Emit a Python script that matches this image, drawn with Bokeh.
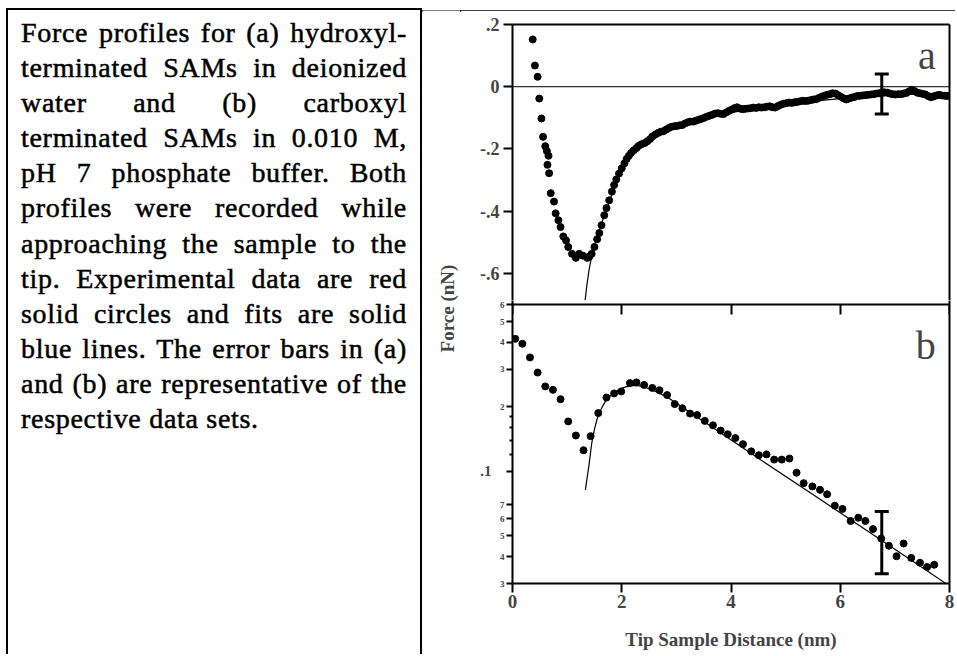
from bokeh.plotting import figure
from bokeh.models import (Div, Label, Span, Whisker, TeeHead, ColumnDataSource,
                          FixedTicker, LogAxis, LinearAxis, Range1d)
from bokeh.layouts import row, column
from bokeh.embed import file_html
from bokeh.resources import INLINE

# ---------------- caption ----------------
caption_lines = [
    "Force profiles for (a) hydroxyl-",
    "terminated SAMs in deionized",
    "water and (b) carboxyl",
    "terminated SAMs in 0.010 M,",
    "pH 7 phosphate buffer. Both",
    "profiles were recorded while",
    "approaching the sample to the",
    "tip. Experimental data are red",
    "solid circles and fits are solid",
    "blue lines. The error bars in (a)",
    "and (b) are representative of the",
    "respective data sets.",
]

# ---------------- panel (a) data ----------------
a_x = [0.37, 0.41, 0.46, 0.49, 0.53, 0.56, 0.60, 0.63, 0.66, 0.64, 0.67, 0.70, 0.76, 0.79, 0.84,
       0.88, 0.93, 0.98, 1.02, 1.09, 1.16, 1.22, 1.29, 1.37, 1.41,
       1.45, 1.50, 1.55, 1.59, 1.63, 1.68, 1.72, 1.77, 1.82, 1.86, 1.90, 1.95, 2.00, 2.05, 2.09,
       2.13, 2.17, 2.22, 2.27, 2.31, 2.36, 2.42, 2.47, 2.52, 2.56, 2.61, 2.66, 2.71, 2.76, 2.81,
       2.86, 2.91, 2.96, 3.01, 3.06, 3.11, 3.16, 3.21, 3.26, 3.31, 3.36, 3.41, 3.46, 3.51, 3.56,
       3.61, 3.66, 3.71, 3.76, 3.81, 3.86, 3.91, 3.96, 4.01, 4.06, 4.11, 4.16, 4.21, 4.26, 4.31,
       4.36, 4.41, 4.46, 4.51, 4.56, 4.61, 4.66, 4.71, 4.76, 4.81, 4.86, 4.91, 4.96, 5.01, 5.06,
       5.11, 5.16, 5.21, 5.26, 5.31, 5.36, 5.41, 5.46, 5.51, 5.56, 5.61, 5.66, 5.71, 5.76, 5.81,
       5.86, 5.91, 5.96, 6.01, 6.06, 6.11, 6.16, 6.21, 6.26, 6.31, 6.36, 6.41, 6.46, 6.51, 6.56,
       6.61, 6.66, 6.71, 6.76, 6.81, 6.86, 6.91, 6.96, 7.01, 7.06, 7.11, 7.16, 7.21, 7.26, 7.31,
       7.36, 7.41, 7.46, 7.51, 7.56, 7.61, 7.66, 7.71, 7.76, 7.81, 7.86, 7.91, 7.96]
a_y = [0.152, 0.068, 0.032, -0.038, -0.102, -0.161, -0.191, -0.207, -0.222, -0.251, -0.278, -0.342,
       -0.369, -0.407, -0.429, -0.451, -0.481, -0.494, -0.515, -0.537, -0.550, -0.537, -0.543,
       -0.550, -0.545,
       -0.537, -0.515, -0.490, -0.470, -0.445, -0.413, -0.390, -0.365, -0.337, -0.316, -0.298,
       -0.279, -0.262, -0.246, -0.232, -0.222, -0.213, -0.204, -0.197, -0.190, -0.185, -0.181,
       -0.175, -0.168, -0.160, -0.154, -0.149, -0.145, -0.143, -0.138, -0.133, -0.129, -0.127,
       -0.126, -0.124, -0.123, -0.118, -0.114, -0.112, -0.112, -0.109, -0.106, -0.103, -0.100,
       -0.096, -0.093, -0.090, -0.086, -0.085, -0.087, -0.088, -0.083, -0.078, -0.074, -0.069,
       -0.066, -0.070, -0.072, -0.071, -0.070, -0.069, -0.067, -0.068, -0.066, -0.067, -0.066,
       -0.064, -0.063, -0.066, -0.067, -0.062, -0.058, -0.055, -0.053, -0.051, -0.052, -0.050,
       -0.049, -0.047, -0.045, -0.046, -0.045, -0.043, -0.041, -0.040, -0.036, -0.032, -0.029,
       -0.026, -0.024, -0.021, -0.022, -0.027, -0.032, -0.037, -0.041, -0.038, -0.035, -0.033,
       -0.030, -0.029, -0.028, -0.027, -0.026, -0.025, -0.024, -0.022, -0.021, -0.020, -0.018,
       -0.019, -0.022, -0.024, -0.025, -0.024, -0.024, -0.022, -0.020, -0.015, -0.010, -0.014,
       -0.019, -0.021, -0.023, -0.025, -0.030, -0.034, -0.031, -0.028, -0.026, -0.028, -0.029,
       -0.030]
a_fit_x = [1.32, 1.36, 1.40, 1.45, 1.50, 1.60, 1.70, 1.80, 1.90, 2.00, 2.10, 2.20, 2.30, 2.50,
           2.75, 3.00, 3.50, 4.00, 4.50, 5.00, 5.50, 6.00, 6.50, 7.00, 7.50, 8.00]
a_fit_y = [-0.700, -0.640, -0.590, -0.545, -0.510, -0.455, -0.405, -0.355, -0.305, -0.268,
           -0.240, -0.215, -0.197, -0.172, -0.148, -0.130, -0.103, -0.083, -0.068, -0.056,
           -0.046, -0.038, -0.032, -0.027, -0.023, -0.020]
a_err_x = [6.76]
a_err_upper = [0.041]
a_err_lower = [-0.088]

# ---------------- panel (b) data ----------------
b_x = [0.05, 0.18, 0.32, 0.46, 0.60, 0.74, 0.88, 1.02, 1.16, 1.30, 1.43, 1.57, 1.72, 1.86,
       1.99, 2.15, 2.27, 2.41, 2.56, 2.69, 2.83, 2.97, 3.11, 3.25, 3.38, 3.52, 3.67, 3.81,
       3.94, 4.08, 4.22, 4.37, 4.51, 4.65, 4.79, 4.93, 5.07, 5.20, 5.33, 5.49, 5.63, 5.76,
       5.90, 6.04, 6.19, 6.33, 6.46, 6.60, 6.75, 6.89, 7.03, 7.16, 7.30, 7.46, 7.59, 7.72]
b_y = [0.415, 0.394, 0.340, 0.289, 0.249, 0.240, 0.217, 0.171, 0.147, 0.1255, 0.146, 0.187,
       0.221, 0.231, 0.236, 0.258, 0.260, 0.253, 0.245, 0.239, 0.227, 0.206, 0.197, 0.186,
       0.183, 0.172, 0.164, 0.155, 0.149, 0.143, 0.134, 0.124, 0.119, 0.120, 0.1135, 0.1135,
       0.1148, 0.0986, 0.0881, 0.0851, 0.0820, 0.0782, 0.0692, 0.0668, 0.0587, 0.0608, 0.0587,
       0.0538, 0.0486, 0.0450, 0.0402, 0.0461, 0.0395, 0.0375, 0.0358, 0.0367]
b_fit_x = [1.334, 1.40, 1.45, 1.50, 1.55, 1.62, 1.70, 1.80, 1.91, 2.03, 2.16, 2.28, 2.40,
           2.60, 2.83, 3.50, 4.50, 5.50, 6.50, 7.50, 7.95]
b_fit_y = [0.082, 0.107, 0.135, 0.157, 0.176, 0.195, 0.212, 0.226, 0.237, 0.246, 0.251,
           0.252, 0.248, 0.237, 0.222, 0.171, 0.115, 0.078, 0.0527, 0.0356, 0.0298]
b_err_x = [6.76]
b_err_upper = [0.065]
b_err_lower = [0.0333]

# ---------------- ticks ----------------
x_ticks = [0, 2, 4, 6, 8]
a_yticks = [0.2, 0, -0.2, -0.4, -0.6]
a_ytick_labels = [".2", "0", "-.2", "-.4", "-.6"]
b_yticks = [0.03, 0.04, 0.05, 0.06, 0.07, 0.2, 0.3, 0.4, 0.5, 0.6]
b_ytick_labels = ["3", "4", "5", "6", "7", "2", "3", "4", "5", "6"]
b_decade_tick = [0.1]
b_decade_label = [".1"]
b_minor = [0.12, 0.14, 0.16, 0.18]
b_top = 0.6          # top of the log panel (divider line between the panels)

SERIF = "Liberation Serif"

# ---------------- caption div ----------------
parts = []
for i, line in enumerate(caption_lines):
    last = "justify" if i < len(caption_lines) - 1 else "left"
    parts.append(f'<div style="text-align:justify;text-align-last:{last};">{line}</div>')
caption_html = (
    '<div style="box-sizing:border-box;width:422px;height:654px;margin:0;padding:8px 0 0 6px;">'
    '<div style="box-sizing:border-box;width:416px;height:646px;margin:0;'
    'border-top:2px solid #000;border-left:2px solid #000;border-right:2px solid #000;'
    "padding:5px 13px 0 13px;font-family:'Liberation Serif',serif;font-size:28px;"
    'line-height:35.1px;letter-spacing:0.7px;color:#000;-webkit-text-stroke:0.5px #000;">'
    + "".join(parts) + "</div></div>"
)
caption = Div(text=caption_html, width=422, height=654, margin=0)

# ---------------- top rule over the figure side ----------------
bar = Div(text='<div style="height:8px;"></div><div style="width:533px;height:2px;background:#000;"></div>',
          width=533, height=10, margin=0)

# ---------------- y label figure ----------------
lab = figure(width=38, height=644, output_backend="svg", toolbar_location=None,
             x_range=Range1d(0, 1), y_range=Range1d(0, 1), min_border=0)
lab.axis.visible = False
lab.grid.visible = False
lab.outline_line_color = None
lab.add_layout(Label(x=25, y=346, x_units="screen", y_units="screen", text="Force (nN)",
                     angle=90, angle_units="deg", text_align="center", text_baseline="middle",
                     text_font=SERIF, text_font_style="bold", text_font_size="19px"))


def frame_line_axis(kind=LinearAxis):
    return kind(ticker=FixedTicker(ticks=[]), major_tick_out=0, major_tick_in=0,
                minor_tick_out=0, minor_tick_in=0, axis_line_width=2,
                major_label_text_font_size="0px")


# ---------------- panel (a) ----------------
pa = figure(width=495, height=290, output_backend="svg", toolbar_location=None,
            x_range=Range1d(0, 8), y_range=Range1d(-0.687, 0.2),
            min_border_left=52, min_border_right=6, min_border_top=14, min_border_bottom=0,
            x_axis_location=None)
pa.grid.visible = False
pa.outline_line_color = None
ya = pa.yaxis[0]
ya.ticker = FixedTicker(ticks=a_yticks, minor_ticks=[])
ya.major_label_overrides = dict(zip(a_yticks, a_ytick_labels))
ya.major_tick_out = 9
ya.major_tick_in = 0
ya.major_tick_line_width = 2
ya.axis_line_width = 2
ya.major_label_standoff = 4
ya.major_label_text_font = SERIF
ya.major_label_text_font_style = "bold"
ya.major_label_text_font_size = "18px"
pa.add_layout(frame_line_axis(), "above")
pa.add_layout(frame_line_axis(), "right")
pa.add_layout(Span(location=0, dimension="width", line_color="black", line_width=1))
pa.line(a_fit_x, a_fit_y, line_color="black", line_width=1.2)
pa.scatter(a_x, a_y, size=7, fill_color="black", line_color="black")
src_a = ColumnDataSource(dict(x=a_err_x, upper=a_err_upper, lower=a_err_lower))
pa.add_layout(Whisker(base="x", upper="upper", lower="lower", source=src_a, line_width=3,
                      upper_head=TeeHead(size=14, line_width=3),
                      lower_head=TeeHead(size=14, line_width=3)))
pa.add_layout(Label(x=7.75, y=0.1, text="a", text_align="right", text_baseline="alphabetic",
                    text_font=SERIF, text_font_size="40px"))

# ---------------- panel (b) ----------------
pb = figure(width=495, height=354, output_backend="svg", toolbar_location=None,
            x_range=Range1d(0, 8), y_range=Range1d(0.03, 0.6265), y_axis_type="log",
            min_border_left=52, min_border_right=6, min_border_top=0, min_border_bottom=71)
pb.grid.visible = False
pb.outline_line_color = None
xb = pb.xaxis[0]
xb.ticker = FixedTicker(ticks=x_ticks, minor_ticks=[])
xb.major_tick_out = 9
xb.major_tick_in = 0
xb.major_tick_line_width = 2
xb.axis_line_width = 2
xb.major_label_standoff = 2
xb.major_label_text_font = SERIF
xb.major_label_text_font_style = "bold"
xb.major_label_text_font_size = "19px"
xb.axis_label = "Tip Sample Distance (nm)"
xb.axis_label_standoff = 18
xb.axis_label_text_font = SERIF
xb.axis_label_text_font_style = "bold"
xb.axis_label_text_font_size = "19px"

# divider between the panels: an axis fixed at the top of the log range, ticks pointing down
xt = LinearAxis(ticker=FixedTicker(ticks=x_ticks, minor_ticks=[]), fixed_location=b_top,
                major_tick_out=0, major_tick_in=10, major_tick_line_width=2,
                axis_line_width=2, major_label_standoff=0, major_label_text_font_size="0px",
                major_label_overrides={t: "" for t in x_ticks})
pb.add_layout(xt, "above")
pb.add_layout(frame_line_axis(LogAxis), "right")

yb = pb.yaxis[0]
yb.ticker = FixedTicker(ticks=b_yticks + b_decade_tick, minor_ticks=b_minor)
ov = dict(zip(b_yticks, b_ytick_labels))
ov[b_decade_tick[0]] = ""
yb.major_label_overrides = ov
yb.major_tick_out = 6
yb.major_tick_in = 0
yb.major_tick_line_width = 2
yb.minor_tick_out = 3
yb.minor_tick_in = 0
yb.minor_tick_line_width = 2
yb.axis_line_width = 2
yb.major_label_standoff = 2
yb.major_label_text_font = SERIF
yb.major_label_text_font_style = "bold"
yb.major_label_text_font_size = "9px"

yb2 = LogAxis(ticker=FixedTicker(ticks=b_decade_tick, minor_ticks=[]),
              major_label_overrides=dict(zip(b_decade_tick, b_decade_label)),
              major_tick_out=0, major_tick_in=0, axis_line_color=None,
              major_label_standoff=5, major_label_text_font=SERIF,
              major_label_text_font_style="bold", major_label_text_font_size="15px")
pb.add_layout(yb2, "left")

pb.line(b_fit_x, b_fit_y, line_color="black", line_width=1.2)
pb.scatter(b_x, b_y, size=7, fill_color="black", line_color="black")
src_b = ColumnDataSource(dict(x=b_err_x, upper=b_err_upper, lower=b_err_lower))
pb.add_layout(Whisker(base="x", upper="upper", lower="lower", source=src_b, line_width=3,
                      upper_head=TeeHead(size=14, line_width=3),
                      lower_head=TeeHead(size=14, line_width=3)))
pb.add_layout(Label(x=7.75, y=0.386, text="b", text_align="right", text_baseline="alphabetic",
                    text_font=SERIF, text_font_size="40px"))

right = column(bar, row(lab, column(pa, pb, spacing=0), spacing=0), spacing=0)
layout = row(caption, right, spacing=0)
open("out.html", "w").write(file_html(layout, INLINE))
